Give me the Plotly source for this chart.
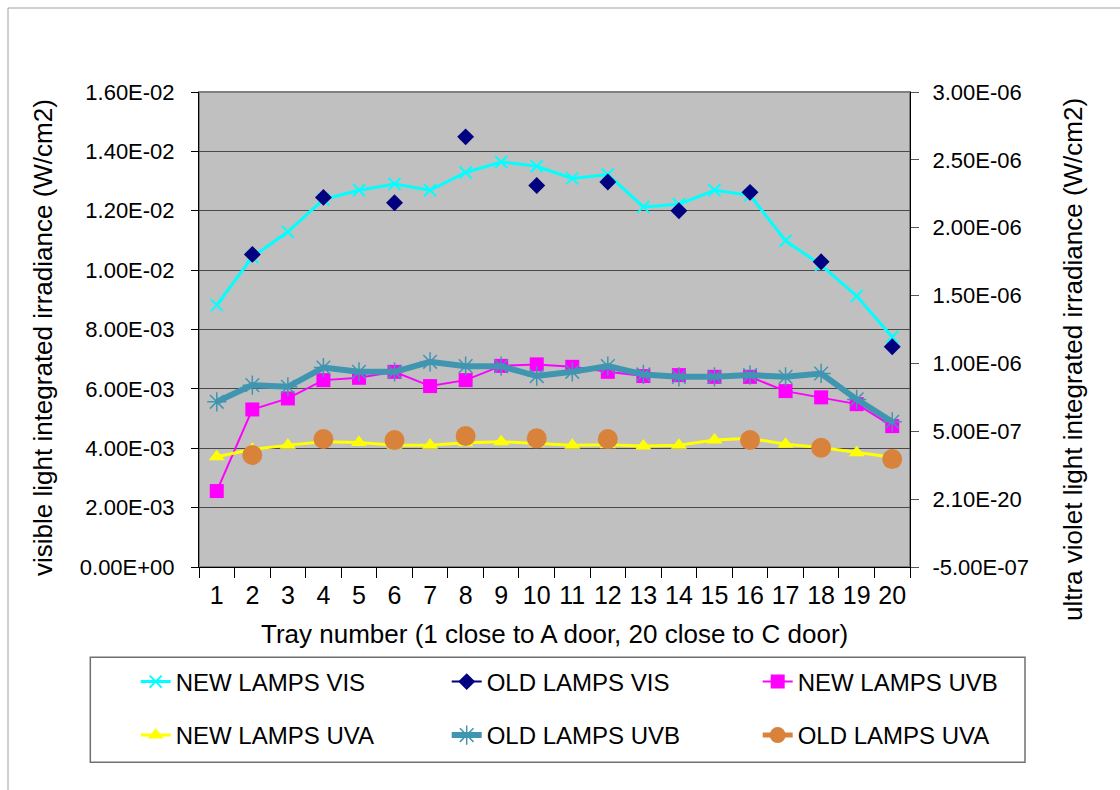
import plotly.graph_objects as go

trays = list(range(1, 21))

new_vis = [8.82e-3, 1.044e-2, 1.129e-2, 1.238e-2, 1.269e-2, 1.290e-2, 1.269e-2, 1.329e-2, 1.364e-2, 1.350e-2,
           1.309e-2, 1.322e-2, 1.213e-2, 1.222e-2, 1.269e-2, 1.252e-2, 1.099e-2, 1.017e-2, 9.13e-3, 7.75e-3]
old_vis = [None, 1.053e-2, None, 1.245e-2, None, 1.227e-2, None, 1.449e-2, None, 1.285e-2,
           None, 1.297e-2, None, 1.200e-2, None, 1.262e-2, None, 1.028e-2, None, 7.42e-3]
new_uvb = [5.97e-8, 6.61e-7, 7.42e-7, 8.77e-7, 8.94e-7, 9.38e-7, 8.33e-7, 8.77e-7, 9.82e-7, 9.93e-7,
           9.75e-7, 9.38e-7, 9.07e-7, 9.14e-7, 9.01e-7, 9.01e-7, 7.96e-7, 7.50e-7, 7.00e-7, 5.38e-7]
new_uva = [3.12e-7, 3.67e-7, 3.98e-7, 4.23e-7, 4.18e-7, 3.98e-7, 3.98e-7, 4.15e-7, 4.23e-7, 4.11e-7,
           3.98e-7, 4.00e-7, 3.91e-7, 3.98e-7, 4.35e-7, 4.48e-7, 4.04e-7, 3.81e-7, 3.42e-7, 3.08e-7]
old_uvb = [7.17e-7, 8.40e-7, 8.28e-7, 9.70e-7, 9.38e-7, 9.38e-7, 1.012e-6, 9.80e-7, 9.80e-7, 9.07e-7,
           9.38e-7, 9.80e-7, 9.19e-7, 9.01e-7, 9.01e-7, 9.14e-7, 9.01e-7, 9.26e-7, 7.35e-7, 5.70e-7]
old_uva = [None, 3.25e-7, None, 4.43e-7, None, 4.35e-7, None, 4.65e-7, None, 4.48e-7,
           None, 4.43e-7, None, None, None, 4.35e-7, None, 3.79e-7, None, 2.95e-7]

left_tickvals = [0, 0.002, 0.004, 0.006, 0.008, 0.010, 0.012, 0.014, 0.016]
left_ticktext = ["0.00E+00", "2.00E-03", "4.00E-03", "6.00E-03", "8.00E-03",
                 "1.00E-02", "1.20E-02", "1.40E-02", "1.60E-02"]
right_tickvals = [-5e-7, 0, 5e-7, 1e-6, 1.5e-6, 2e-6, 2.5e-6, 3e-6]
right_ticktext = ["-5.00E-07", "2.10E-20", "5.00E-07", "1.00E-06", "1.50E-06",
                  "2.00E-06", "2.50E-06", "3.00E-06"]

x_title = "Tray number (1 close to A door, 20 close to C door)"
y_title = "visible light integrated irradiance (W/cm2)"
y2_title = "ultra violet light integrated irradiance (W/cm2)"

FONT = "Liberation Sans, Arial, sans-serif"
W, H = 1120, 790
L, R, T, B = 199, 210, 92, 223
PW, PH = W - L - R, H - T - B


def px_x(p):
    return (p - L) / PW


def px_y(p):
    return (H - B - p) / PH


fig = go.Figure()

fig.add_trace(go.Scatter(
    x=trays, y=new_vis, name="NEW LAMPS VIS", mode="lines+markers",
    line=dict(color="#00FFFF", width=3),
    marker=dict(symbol="x-thin", size=12, color="#00FFFF", line=dict(color="#00FFFF", width=2)),
    legend="legend", legendwidth=266))
fig.add_trace(go.Scatter(
    x=trays, y=old_vis, name="OLD LAMPS VIS", mode="lines+markers", connectgaps=False,
    line=dict(color="#000080", width=2),
    marker=dict(symbol="diamond", size=13, color="#000080"),
    legend="legend", legendwidth=266))
fig.add_trace(go.Scatter(
    x=trays, y=new_uvb, name="NEW LAMPS UVB", mode="lines+markers", yaxis="y2",
    line=dict(color="#FF00FF", width=2),
    marker=dict(symbol="square", size=14, color="#FF00FF"),
    legend="legend", legendwidth=215))
fig.add_trace(go.Scatter(
    x=trays, y=new_uva, name="NEW LAMPS UVA", mode="lines+markers", yaxis="y2",
    line=dict(color="#FFFF00", width=3),
    marker=dict(symbol="triangle-up", size=14, color="#FFFF00"),
    legend="legend2", legendwidth=266))
fig.add_trace(go.Scatter(
    x=trays, y=old_uvb, name="OLD LAMPS UVB", mode="lines+markers", yaxis="y2",
    line=dict(color="#4096B0", width=6),
    marker=dict(symbol="asterisk", size=16, color="#4096B0", line=dict(color="#4096B0", width=1.5)),
    legend="legend2", legendwidth=266))
fig.add_trace(go.Scatter(
    x=trays, y=old_uva, name="OLD LAMPS UVA", mode="lines+markers", yaxis="y2", connectgaps=False,
    line=dict(color="#D9823B", width=5),
    marker=dict(symbol="circle", size=20, color="#D9823B"),
    legend="legend2", legendwidth=215))

leg_common = dict(orientation="h", xanchor="left", yanchor="top", bgcolor="rgba(0,0,0,0)",
                  borderwidth=0, font=dict(family=FONT, size=24, color="black"),
                  traceorder="normal")

fig.update_layout(
    width=W, height=H,
    margin=dict(l=L, r=R, t=T, b=B, autoexpand=False),
    paper_bgcolor="white", plot_bgcolor="#C0C0C0",
    font=dict(family=FONT, color="black"),
    showlegend=True,
    legend=dict(x=px_x(135.7), y=px_y(659.5), **leg_common),
    legend2=dict(x=px_x(135.7), y=px_y(713), **leg_common),
    xaxis=dict(type="category", range=[-0.5, 19.5], tickson="boundaries", ticks="outside",
               ticklen=10, tickcolor="black", showline=True, linecolor="black", linewidth=1,
               showgrid=False, tickfont=dict(family=FONT, size=25, color="black"),
               tickangle=0, ticklabelstandoff=6, zeroline=False),
    yaxis=dict(range=[0, 0.016], tickvals=left_tickvals, ticktext=left_ticktext,
               ticks="outside", ticklen=7, tickcolor="black", showline=True, linecolor="black",
               linewidth=1, showgrid=True, gridcolor="#4a4a4a", gridwidth=1, zeroline=False,
               tickfont=dict(family=FONT, size=22, color="black"), ticklabelstandoff=12),
    yaxis2=dict(range=[-5e-7, 3e-6], tickvals=right_tickvals, ticktext=right_ticktext,
                overlaying="y", side="right", anchor="x",
                ticks="outside", ticklen=8, tickcolor="#555555", showline=True, linecolor="black",
                linewidth=1, showgrid=False, zeroline=False,
                tickfont=dict(family=FONT, size=22, color="black"), ticklabelstandoff=9),
    yaxis3=dict(range=[-5e-7, 3e-6], tickvals=right_tickvals, overlaying="y", side="right",
                anchor="x", ticks="inside", ticklen=8, tickcolor="#555555", showticklabels=False,
                showline=False, showgrid=False, zeroline=False),
    shapes=[
        dict(type="rect", xref="paper", yref="paper", x0=0, x1=1, y0=0, y1=1,
             line=dict(color="#808080", width=2), layer="below"),
        dict(type="rect", xref="paper", yref="paper", x0=px_x(8), x1=px_x(1130),
             y0=px_y(800), y1=px_y(8), line=dict(color="#A0A0A0", width=1)),
        dict(type="rect", xref="paper", yref="paper", x0=px_x(90.3), x1=px_x(1025),
             y0=px_y(762.3), y1=px_y(657.3), line=dict(color="#707070", width=1.5)),
    ],
    annotations=[
        dict(text=x_title, xref="paper", yref="paper", x=0.5, y=px_y(634), xanchor="center",
             yanchor="middle", showarrow=False, font=dict(family=FONT, size=26, color="black")),
        dict(text=y_title, xref="paper", yref="paper", x=px_x(43), y=px_y(338), xanchor="center",
             yanchor="middle", textangle=-90, showarrow=False,
             font=dict(family=FONT, size=26, color="black")),
        dict(text=y2_title, xref="paper", yref="paper", x=px_x(1073), y=px_y(360), xanchor="center",
             yanchor="middle", textangle=-90, showarrow=False,
             font=dict(family=FONT, size=26, color="black")),
    ],
)

fig.write_html("out.html")
